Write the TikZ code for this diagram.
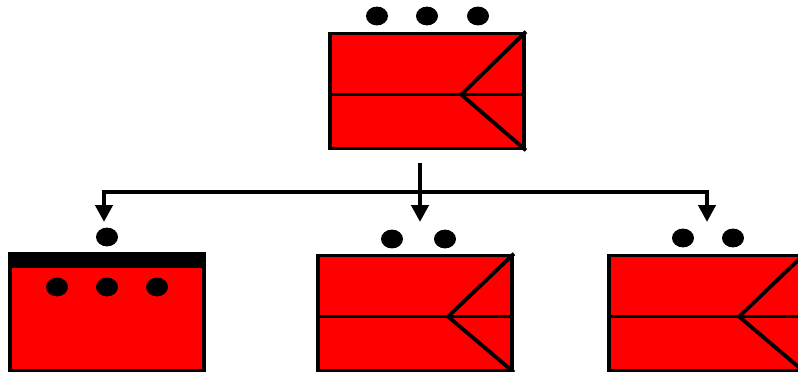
\documentclass[tikz,border=0pt]{standalone}
\usetikzlibrary{arrows.meta,positioning,shapes.geometric}

\begin{document}
\begin{tikzpicture}[
  x=0.025cm, y=-0.025cm,
  >={Triangle[width=12pt,length=12pt]},
  unit/.style={draw, line width=2.7pt, fill=red, minimum width=4.85cm, minimum height=2.87cm, inner sep=0pt},
  dot/.style={ellipse, fill=black, minimum width=0.55cm, minimum height=0.47cm, inner sep=0pt},
  wire/.style={line width=2.7pt},
  arr/.style={->, line width=3.1pt}
]
\useasboundingbox (0,0) rectangle (798,372);
\clip (0,0) rectangle (798,372);

% top unit
\node[unit] (root) at (427,91) {};
\node[dot] (rd1) at (377,16) {};
\node[dot] (rd2) at (427,16) {};
\node[dot] (rd3) at (478,16) {};
\draw[wire] ([yshift=-0.09cm]root.west) -- ([yshift=-0.09cm]root.east);
\draw[wire] ([xshift=3.33cm,yshift=-0.09cm]root.west) -- (root.north east);
\draw[wire] ([xshift=3.33cm,yshift=-0.09cm]root.west) -- (root.south east);

% bottom left unit
\node[unit] (lbox) at (107,313) {};
\fill ([yshift=1.35pt]lbox.north west) rectangle ([yshift=-0.35cm]lbox.north east);
\node[dot] (ld0) at (107,237) {};
\node[dot] (ld1) at (57,287) {};
\node[dot] (ld2) at (107,287) {};
\node[dot] (ld3) at (157,287) {};

% bottom middle unit
\node[unit] (mbox) at (415,313) {};
\node[dot] (md1) at (392,239) {};
\node[dot] (md2) at (445,239) {};
\draw[wire] ([yshift=-0.09cm]mbox.west) -- ([yshift=-0.09cm]mbox.east);
\draw[wire] ([xshift=3.3cm,yshift=-0.09cm]mbox.west) -- (mbox.north east);
\draw[wire] ([xshift=3.3cm,yshift=-0.09cm]mbox.west) -- (mbox.south east);

% bottom right unit
\node[unit] (rbox) at (706,313) {};
\node[dot] (bd1) at (683,238) {};
\node[dot] (bd2) at (733,238) {};
\draw[wire] ([yshift=-0.09cm]rbox.west) -- ([yshift=-0.09cm]rbox.east);
\draw[wire] ([xshift=3.3cm,yshift=-0.09cm]rbox.west) -- (rbox.north east);
\draw[wire] ([xshift=3.3cm,yshift=-0.09cm]rbox.west) -- (rbox.south east);

% connectors
\coordinate (src) at (420,163);
\coordinate (fork) at (420,192);
\coordinate (lend) at (104,222);
\coordinate (mend) at (420,222);
\coordinate (rend) at (707,222);
\draw[arr] (src) -- (mend);
\draw[arr] (fork) -| (lend);
\draw[arr] (fork) -| (rend);
\end{tikzpicture}
\end{document}
